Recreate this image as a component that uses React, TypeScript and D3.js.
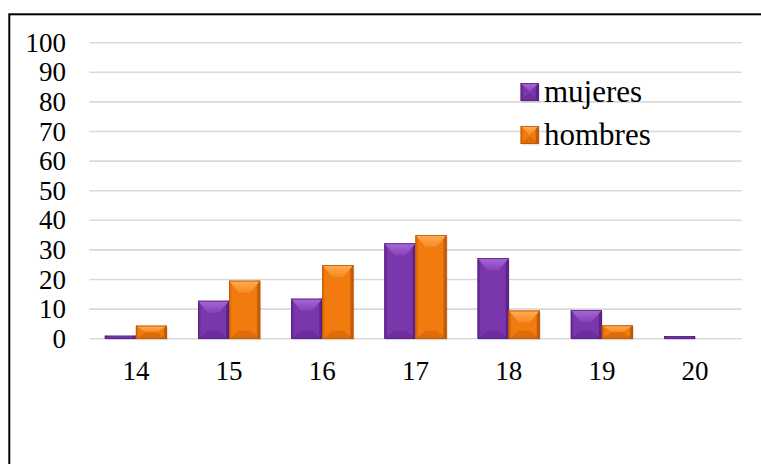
import React from "react";
import * as d3 from "d3";

const categories = ["14", "15", "16", "17", "18", "19", "20"];
const seriesNames = ["mujeres", "hombres"];
const mujeres = [1, 12.8, 13.5, 32.2, 27.2, 9.7, 0.9];
const hombres = [4.4, 19.6, 24.9, 35, 9.5, 4.5, 0];
const yTicks = [0, 10, 20, 30, 40, 50, 60, 70, 80, 90, 100];

const W = 761;
const H = 464;
const FONT = "'Liberation Serif', 'Times New Roman', serif";

const palettes: Record<string, { base: string; top: string; topEnd: string; left: string; right: string; bottom: string; edge: string }> = {
  mujeres: { base: "#7A36AB", top: "#A769D6", topEnd: "#8642B8", left: "#6C2B9A", right: "#5E238C", bottom: "#6E2D9C", edge: "#56207F" },
  hombres: { base: "#F27B10", top: "#FFAE55", topEnd: "#F68A22", left: "#E87008", right: "#C45E06", bottom: "#DE6C08", edge: "#B65504" },
};

function BevelBar({ x, y, w, h, name }: { x: number; y: number; w: number; h: number; name: string }) {
  if (h <= 0) return null;
  const p = palettes[name];
  const bt = Math.min(12, h / 2);
  const bi = Math.min(10, w / 2);
  const bs = Math.min(2.5, w / 2);
  const bb = Math.min(8, h / 2);
  const x0 = x, x1 = x + w, y0 = y, y1 = y + h;
  const pts = (a: number[][]) => a.map((q) => q.join(",")).join(" ");
  return (
    <g>
      <rect x={x0 + 1.2} y={y0 + 1.5} width={w} height={h} fill="#000" opacity={0.1} />
      <rect x={x0} y={y0} width={w} height={h} fill={p.base} />
      <polygon points={pts([[x0, y1], [x0 + bi, y1 - bb], [x1 - bi, y1 - bb], [x1, y1]])} fill={p.bottom} />
      <rect x={x0} y={y0} width={bs} height={h} fill={p.left} />
      <rect x={x1 - bs - 0.5} y={y0} width={bs + 0.5} height={h} fill={p.right} />
      <polygon points={pts([[x0, y0], [x1, y0], [x1 - bi, y0 + bt], [x0 + bi, y0 + bt]])} fill={`url(#top-${name})`} />
      <rect x={x0 + 0.4} y={y0 + 0.4} width={w - 0.8} height={h - 0.8} fill="none" stroke={p.edge} strokeWidth={0.8} />
    </g>
  );
}

export default function App() {
  const plotLeft = 89.3;
  const plotRight = 741.7;
  const x = d3.scaleBand<string>().domain(categories).range([plotLeft, plotRight]).paddingInner(1 / 3).paddingOuter(1 / 6);
  const xs = d3.scaleBand<string>().domain(seriesNames).range([0, x.bandwidth()]).padding(0);
  const y = d3.scaleLinear().domain([0, 100]).range([338.7, 42.7]);
  const data: Record<string, number[]> = { mujeres, hombres };

  return (
    <svg width={W} height={H} style={{ position: "absolute", left: 0, top: 0, display: "block" }} fontFamily={FONT}>
      <defs>
        {seriesNames.map((s) => (
          <linearGradient key={s} id={`top-${s}`} x1="0" y1="0" x2="0" y2="1">
            <stop offset="0" stopColor={palettes[s].top} />
            <stop offset="1" stopColor={palettes[s].topEnd} />
          </linearGradient>
        ))}
      </defs>
      <rect x={0} y={0} width={W} height={H} fill="#fff" />
      <rect x={9.3} y={14.3} width={W + 20} height={H + 20} fill="none" stroke="#000" strokeWidth={2} />
      {yTicks.map((t) => (
        <g key={t}>
          <line x1={plotLeft} x2={plotRight} y1={y(t)} y2={y(t)} stroke="#d9d9d9" strokeWidth={1.6} />
          <text x={66} y={y(t) + 9} textAnchor="end" fontSize={27} fill="#000">
            {t}
          </text>
        </g>
      ))}
      {categories.map((c, i) => (
        <g key={c}>
          {seriesNames.map((s) => {
            const v = data[s][i];
            const bx = (x(c) as number) + (xs(s) as number);
            return <BevelBar key={s} x={bx} y={y(v)} w={xs.bandwidth()} h={y(0) - y(v)} name={s} />;
          })}
          <text x={(x(c) as number) + x.bandwidth() / 2} y={380} textAnchor="middle" fontSize={27} fill="#000">
            {c}
          </text>
        </g>
      ))}
      {seriesNames.map((s, i) => {
        const ly = 83 + i * 43;
        return (
          <g key={s}>
            <BevelBar x={520.7} y={ly} w={18} h={18} name={s} />
            <text x={544} y={ly + 18.5} fontSize={31} fill="#000">
              {s}
            </text>
          </g>
        );
      })}
    </svg>
  );
}
